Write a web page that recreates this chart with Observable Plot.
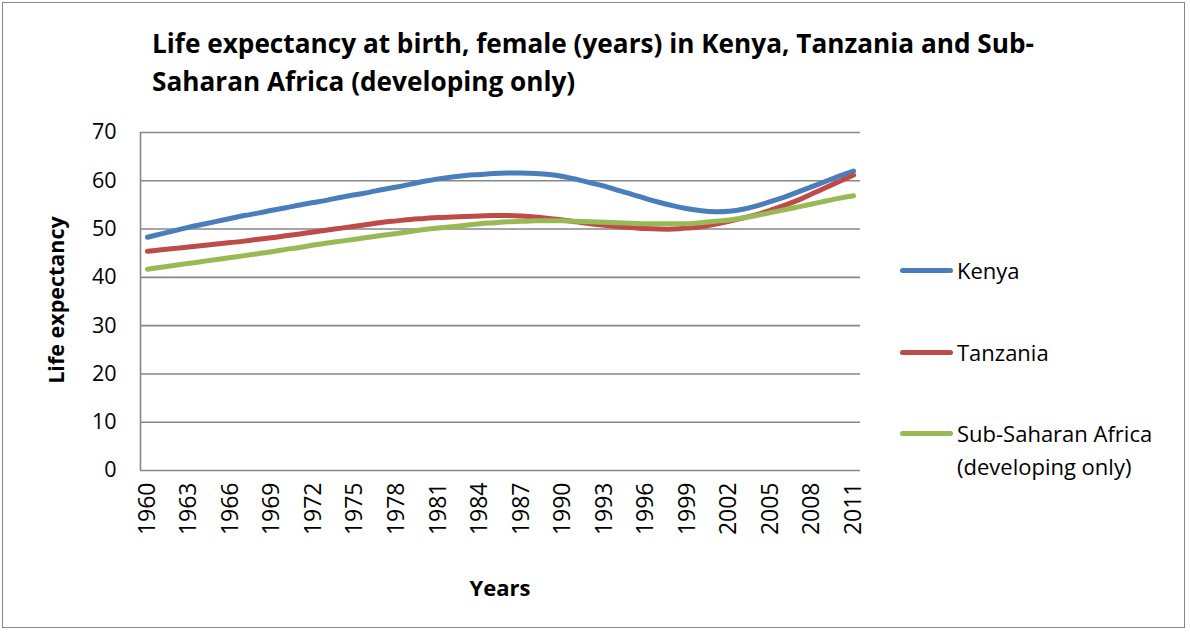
<!DOCTYPE html>
<html>
<head>
<meta charset="utf-8">
<script src="https://cdn.jsdelivr.net/npm/d3@7"></script>
<script src="https://cdn.jsdelivr.net/npm/@observablehq/plot@0.6"></script>
<style>
  html, body { margin: 0; padding: 0; background: #fff; }
  #wrap { position: relative; width: 1190px; height: 633px; font-family: "Open Sans", sans-serif; color: #000; }
  #frame { position: absolute; left: 2px; top: 2px; width: 1183px; height: 626px; border: 1.5px solid #878787; box-sizing: border-box; }
  #chart { position: absolute; left: 0; top: 0; }
  .ov { position: absolute; white-space: nowrap; }
  #title { left: 152px; top: 24px; font-size: 26.2px; font-weight: bold; line-height: 38px; }
  #ytitle { left: 55px; top: 300px; font-size: 21.5px; font-weight: bold; transform: translate(-50%, -50%) rotate(-90deg); }
  #xtitle { left: 500px; top: 587px; font-size: 22px; font-weight: bold; transform: translate(-50%, -50%); }
  .leg { position: absolute; left: 900px; font-size: 22px; line-height: 33px; white-space: nowrap; }
  .leg .sw { position: absolute; left: 0; width: 53px; height: 5px; border-radius: 3px; }
  .leg .lb { position: absolute; left: 57px; top: 0; white-space: nowrap; }
</style>
</head>
<body>
<div id="wrap">
  <div id="chart"></div>
  <div id="frame"></div>
  <div class="ov" id="title">Life expectancy at birth, female (years) in Kenya, Tanzania and Sub-<br>Saharan Africa (developing only)</div>
  <div class="ov" id="ytitle">Life expectancy</div>
  <div class="ov" id="xtitle">Years</div>
  <div id="legend"></div>
</div>
<script>
const years = d3.range(1960, 2012);
const seriesNames = ["Kenya", "Tanzania", "Sub-Saharan Africa (developing only)"];
const legendLabels = [["Kenya"], ["Tanzania"], ["Sub-Saharan Africa", "(developing only)"]];
const seriesColors = ["#4a7ebb", "#be4b48", "#98b954"];

const kenya = [48.3, 49.0, 49.7, 50.4, 51.0, 51.6, 52.2, 52.8, 53.3, 53.9,
  54.4, 55.0, 55.5, 56.0, 56.6, 57.1, 57.6, 58.2, 58.7, 59.3,
  59.9, 60.4, 60.8, 61.1, 61.3, 61.5, 61.6, 61.6, 61.5, 61.3,
  60.9, 60.3, 59.6, 58.9, 58.0, 57.2, 56.3, 55.5, 54.8, 54.2,
  53.8, 53.6, 53.7, 54.1, 54.8, 55.7, 56.6, 57.7, 58.8, 59.9,
  61.0, 62.0];
const tanzania = [45.4, 45.7, 46.0, 46.3, 46.6, 46.9, 47.2, 47.5, 47.9, 48.2,
  48.6, 49.0, 49.4, 49.8, 50.2, 50.6, 51.0, 51.4, 51.7, 52.0,
  52.2, 52.4, 52.5, 52.6, 52.7, 52.8, 52.8, 52.7, 52.5, 52.2,
  51.9, 51.5, 51.1, 50.8, 50.5, 50.3, 50.1, 50.0, 50.0, 50.2,
  50.5, 51.0, 51.6, 52.3, 53.0, 53.9, 54.9, 56.0, 57.3, 58.6,
  59.9, 61.2];
const ssa = [41.7, 42.1, 42.5, 42.9, 43.3, 43.7, 44.1, 44.5, 44.9, 45.3,
  45.8, 46.2, 46.7, 47.1, 47.5, 47.9, 48.3, 48.7, 49.1, 49.5,
  49.9, 50.2, 50.5, 50.8, 51.1, 51.3, 51.5, 51.6, 51.7, 51.7,
  51.7, 51.6, 51.5, 51.4, 51.3, 51.2, 51.1, 51.1, 51.1, 51.1,
  51.3, 51.6, 51.9, 52.3, 52.8, 53.4, 54.0, 54.6, 55.2, 55.8,
  56.4, 56.9];
const xTicks = d3.range(1960, 2012, 3);
const yTicks = [0, 10, 20, 30, 40, 50, 60, 70];

const seriesValues = [kenya, tanzania, ssa];
const rows = [];
seriesNames.forEach((s, i) => years.forEach((y, j) => rows.push({series: s, year: y, value: seriesValues[i][j]})));

const xDomain = [years[0] - 0.5, years[years.length - 1] + 0.5];

const chart = Plot.plot({
  width: 1190,
  height: 633,
  marginLeft: 140,
  marginRight: 330,
  marginTop: 132,
  marginBottom: 163,
  style: {fontFamily: "Open Sans, sans-serif", fontSize: "21px", color: "#000", background: "transparent"},
  x: {domain: xDomain},
  y: {domain: [0, 70]},
  color: {domain: seriesNames, range: seriesColors},
  marks: [
    Plot.ruleY(yTicks, {stroke: "#878787", strokeWidth: 1.6, strokeOpacity: 1}),
    Plot.ruleX([xDomain[0]], {stroke: "#878787", strokeWidth: 1.6}),
    Plot.axisY({ticks: yTicks, tickSize: 0, tickPadding: 24, label: null, fontSize: 21.5}),
    Plot.axisX({ticks: xTicks, tickSize: 0, tickPadding: 12, tickRotate: -90, tickFormat: d => String(d), label: null, fontSize: 23}),
    Plot.line(rows, {x: "year", y: "value", stroke: "series", strokeWidth: 5, curve: "catmull-rom", strokeLinecap: "round", strokeLinejoin: "round"})
  ]
});
document.getElementById("chart").appendChild(chart);

const legend = document.getElementById("legend");
const legTops = [254, 336, 417];
seriesNames.forEach((s, i) => {
  const d = document.createElement("div");
  d.className = "leg";
  d.style.top = legTops[i] + "px";
  const sw = document.createElement("div");
  sw.className = "sw";
  sw.style.background = seriesColors[i];
  sw.style.top = "14px";
  d.appendChild(sw);
  const lb = document.createElement("div");
  lb.className = "lb";
  lb.innerHTML = legendLabels[i].join("<br>");
  d.appendChild(lb);
  legend.appendChild(d);
});
</script>
</body>
</html>
